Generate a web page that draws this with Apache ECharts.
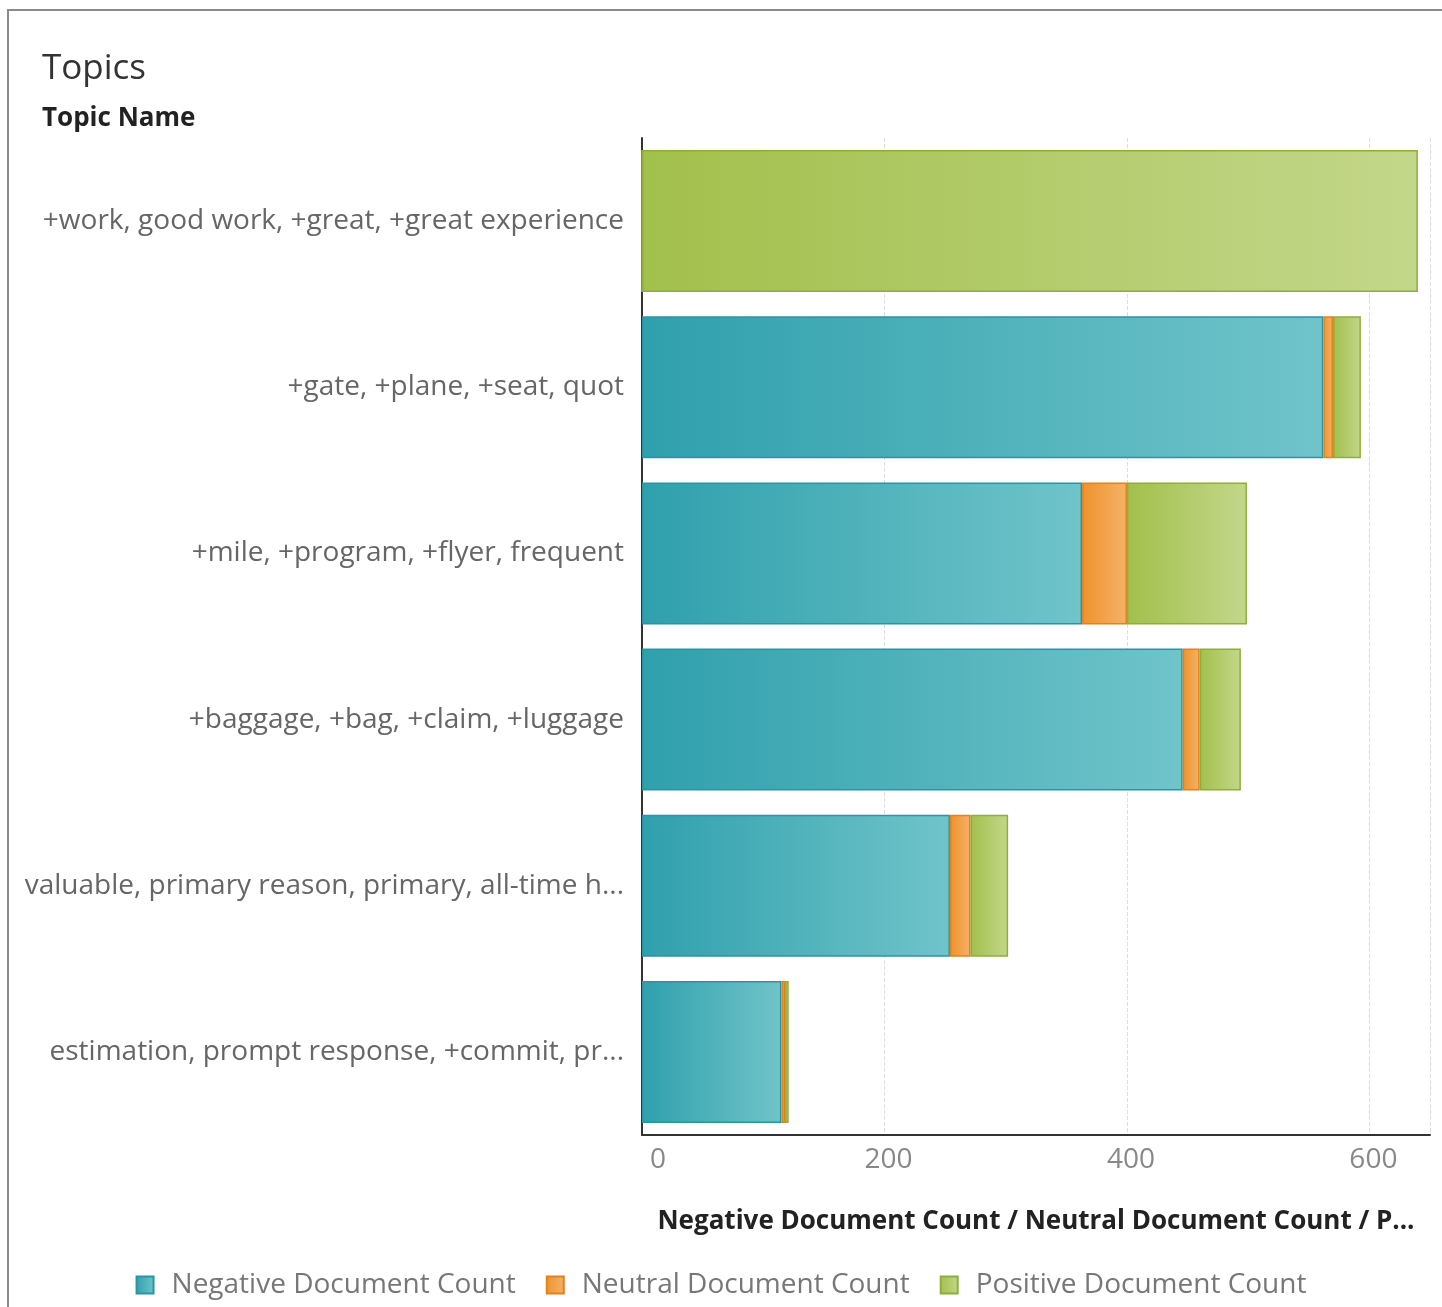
<!DOCTYPE html>
<html>
<head>
<meta charset="utf-8">
<script src="https://cdn.jsdelivr.net/npm/echarts@6/dist/echarts.min.js"></script>
<style>
html,body{margin:0;padding:0;background:#fff;}
#chart{position:absolute;left:0;top:0;width:1442px;height:1307px;}
#frame{position:absolute;left:7px;top:9px;width:1500px;height:1400px;border:2px solid #8a8a8a;pointer-events:none;box-sizing:border-box;}
</style>
</head>
<body>
<div id="chart"></div>
<div id="frame"></div>
<script>
const categories = [
  "+work, good work, +great, +great experience",
  "+gate, +plane, +seat, quot",
  "+mile, +program, +flyer, frequent",
  "+baggage, +bag, +claim, +luggage",
  "valuable, primary reason, primary, all-time h...",
  "estimation, prompt response, +commit, pr..."
];
const negativeCounts = [0, 562, 363, 446, 254, 115];
const neutralCounts = [0, 8, 37, 14, 17, 3];
const positiveCounts = [640, 23, 99, 34, 31, 3];
const seriesNames = ["Negative Document Count", "Neutral Document Count", "Positive Document Count"];
const axisTitle = "Negative Document Count / Neutral Document Count / P...";

const FONT = "'Open Sans', Lato, sans-serif";
function grad(a, b) {
  return new echarts.graphic.LinearGradient(0, 0, 1, 0, [
    {offset: 0, color: a}, {offset: 1, color: b}
  ]);
}
const styles = [
  {color: grad('#2fa0ac', '#70c4ca'), borderColor: '#2a95a2'},
  {color: grad('#ef922c', '#f5b268'), borderColor: '#e0821e'},
  {color: grad('#a2c04c', '#c3d78a'), borderColor: '#8eae3c'}
];
const dataSets = [negativeCounts, neutralCounts, positiveCounts];

const chart = echarts.init(document.getElementById('chart'));
chart.setOption({
  animation: false,
  textStyle: {fontFamily: FONT},
  title: [
    {text: 'Topics', left: 37, top: 47, textStyle: {fontFamily: FONT, fontSize: 35, fontWeight: 'normal', color: '#333'}},
    {text: 'Topic Name', left: 37, top: 101, textStyle: {fontFamily: FONT, fontSize: 26, fontWeight: 'bold', color: '#222'}}
  ],
  legend: {
    bottom: 3,
    left: 'center',
    icon: 'rect',
    itemWidth: 17,
    itemHeight: 17,
    itemGap: 30,
    textStyle: {fontFamily: FONT, fontSize: 28, color: '#777', padding: [0, 0, 0, 13]},
    data: seriesNames
  },
  grid: {left: 642, right: 12, top: 138, bottom: 172, containLabel: false},
  xAxis: {
    type: 'value',
    min: 0,
    max: 650,
    interval: 200,
    name: axisTitle,
    nameLocation: 'middle',
    nameGap: 74,
    nameTextStyle: {fontFamily: FONT, fontSize: 26, fontWeight: 'bold', color: '#222'},
    axisLine: {show: true, lineStyle: {color: '#333', width: 2}},
    axisTick: {show: false},
    axisLabel: {fontFamily: FONT, fontSize: 28, color: '#888', margin: 11, showMaxLabel: false, alignMinLabel: 'left', padding: [0, 0, 0, 8]},
    splitLine: {show: true, lineStyle: {color: '#dddddd', type: 'dashed', width: 1}}
  },
  yAxis: {
    type: 'category',
    inverse: true,
    data: categories,
    axisLine: {show: true, lineStyle: {color: '#333', width: 2}},
    axisTick: {show: false},
    axisLabel: {fontFamily: FONT, fontSize: 28, color: '#666', margin: 18}
  },
  series: dataSets.map((d, i) => ({
    name: seriesNames[i],
    type: 'bar',
    stack: 'total',
    barWidth: '85.5%',
    data: d,
    itemStyle: Object.assign({borderWidth: 1.5}, styles[i])
  }))
});
</script>
</body>
</html>
